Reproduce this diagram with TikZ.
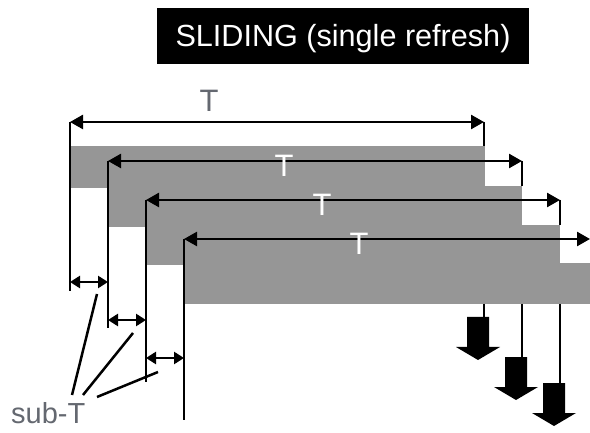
\documentclass[tikz,border=0pt]{standalone}
\usepackage{fontspec}
\setmainfont{Liberation Sans}
\usetikzlibrary{arrows.meta}
\definecolor{band}{RGB}{150,150,150}
\definecolor{labelgray}{RGB}{100,104,112}
\begin{document}
\begin{tikzpicture}[x=1pt,y=-1pt,
  band/.style={fill=band},
  tick/.style={line width=2.6pt, black},
  span/.style={line width=2.5pt, {Triangle[length=13pt,width=14pt]}-{Triangle[length=13pt,width=14pt]}},
  subspan/.style={line width=2.5pt, {Triangle[length=10pt,width=12pt]}-{Triangle[length=10pt,width=12pt]}},
  leader/.style={line width=2.5pt, black},
  tlabel/.style={font=\fontsize{31}{31}\selectfont, anchor=base, inner sep=0pt},
  blockdown/.pic={\fill[black] (-11,0) -- (11,0) -- (11,30) -- (22,30) -- (0,43) -- (-22,30) -- (-11,30) -- cycle;}
]
\useasboundingbox (0,0) rectangle (590,433);

% title banner
\node[fill=black, text=white, font=\fontsize{30.6}{30.6}\selectfont,
      minimum width=372pt, minimum height=56pt, inner sep=0pt,
      text height=27pt, text depth=5pt] (title) at (343,36) {SLIDING (single refresh)};

% staggered refresh windows
\fill[band] (69,146) rectangle (485,188);
\fill[band] (107,186) rectangle (522,227);
\fill[band] (145,225) rectangle (560,265);
\fill[band] (183,263) rectangle (590,304);

% window end points
\coordinate (a1L) at (70,122);  \coordinate (a1R) at (484,122);
\coordinate (a2L) at (108,161); \coordinate (a2R) at (522,161);
\coordinate (a3L) at (146,200); \coordinate (a3R) at (560,200);
\coordinate (a4L) at (184,239); \coordinate (a4R) at (590,239);

% left boundary ticks
\coordinate (t1B) at (70,291);
\coordinate (t2B) at (108,328);
\coordinate (t3B) at (146,382);
\coordinate (t4B) at (184,420);
\draw[tick] (a1L) -- (t1B);
\draw[tick] (a2L) -- (t2B);
\draw[tick] (a3L) -- (t3B);
\draw[tick] (a4L) -- (t4B);

% right boundary ticks above the bands
\coordinate (r1T) at (484,146);
\coordinate (r2T) at (522,186);
\coordinate (r3T) at (560,225);
\draw[tick] (a1R) -- (r1T);
\draw[tick] (a2R) -- (r2T);
\draw[tick] (a3R) -- (r3T);

% window lengths
\draw[span] (a1L) -- (a1R);
\draw[span] (a2L) -- (a2R);
\draw[span] (a3L) -- (a3R);
\draw[span] (a4L) -- (a4R);

\node[tlabel, text=labelgray] (T1) at (209,112) {T};
\node[tlabel, text=white] (T2) at (284,177) {T};
\node[tlabel, text=white] (T3) at (322,216) {T};
\node[tlabel, text=white] (T4) at (359,255) {T};

% refresh outputs
\coordinate (r1B) at (484,304); \coordinate (o1) at (484,318);
\coordinate (r2B) at (522,304); \coordinate (o2) at (522,358);
\coordinate (r3B) at (560,304); \coordinate (o3) at (560,384);
\draw[tick] (r1B) -- (o1);
\draw[tick] (r2B) -- (o2);
\draw[tick] (r3B) -- (o3);
\pic at (478,317) {blockdown};
\pic at (516,357) {blockdown};
\pic at (554,383) {blockdown};

% sub-period offsets
\coordinate (s1L) at (70,282);  \coordinate (s1R) at (108,282);
\coordinate (s2L) at (108,320); \coordinate (s2R) at (146,320);
\coordinate (s3L) at (146,358); \coordinate (s3R) at (184,358);
\draw[subspan] (s1L) -- (s1R);
\draw[subspan] (s2L) -- (s2R);
\draw[subspan] (s3L) -- (s3R);

\node[font=\fontsize{29}{29}\selectfont, text=labelgray, anchor=base west, inner sep=0pt] (subT) at (11,423) {sub-T};
\coordinate (l1a) at (72,395);  \coordinate (l1b) at (97,294);
\coordinate (l2a) at (83,395);  \coordinate (l2b) at (133,333);
\coordinate (l3a) at (97,397);  \coordinate (l3b) at (158,372);
\draw[leader] (l1a) -- (l1b);
\draw[leader] (l2a) -- (l2b);
\draw[leader] (l3a) -- (l3b);
\end{tikzpicture}
\end{document}
